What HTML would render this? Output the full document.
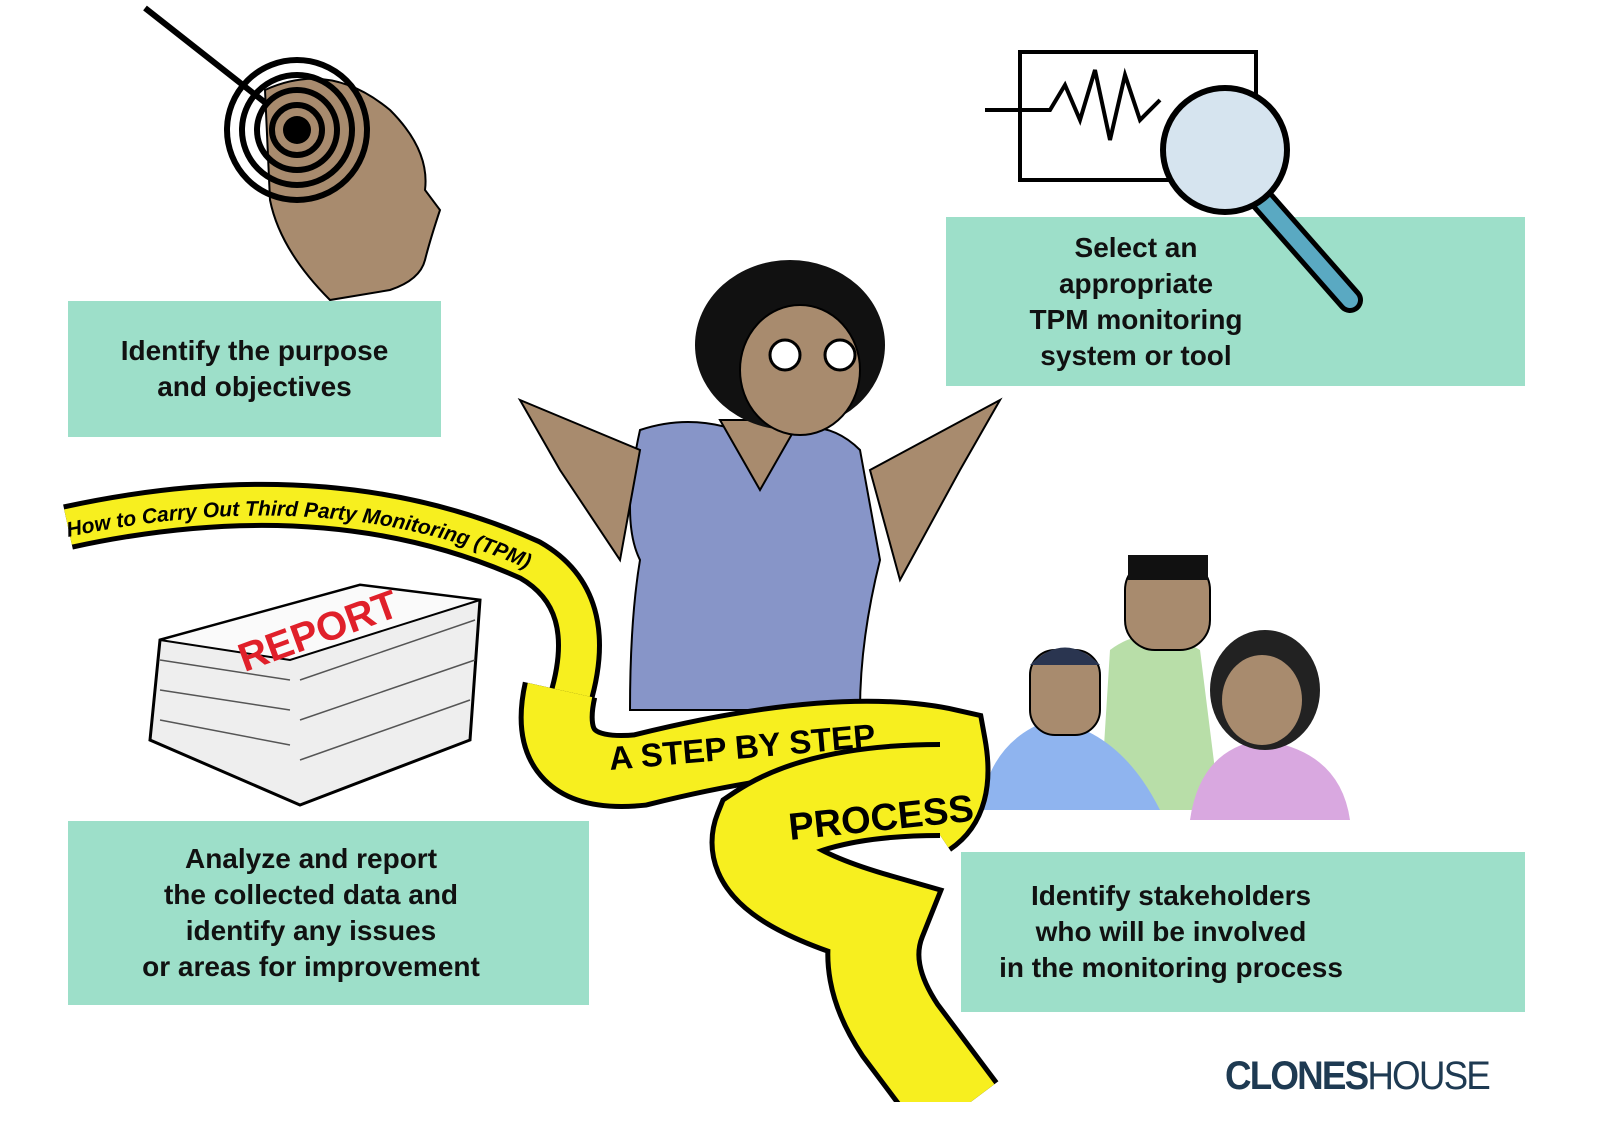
<!DOCTYPE html>
<html><head><meta charset="utf-8"><style>
html,body{margin:0;padding:0;background:#fff}
#c{position:relative;width:1600px;height:1131px;overflow:hidden;background:#fff;font-family:"Liberation Sans",Arial,sans-serif}
.b{position:absolute;background:#9ddfc9;display:flex;align-items:center;justify-content:center;text-align:center;font-weight:bold;font-size:28px;line-height:36px;color:#111}
svg{position:absolute;left:0;top:0}
</style></head><body><div id="c">
<svg width="1600" height="1131" viewBox="0 0 1600 1131">
<line x1="145" y1="8" x2="300" y2="130" stroke="#000" stroke-width="6"/>
<path d="M265 90 Q330 60 390 110 Q430 150 425 190 L440 210 Q430 240 425 260 Q420 280 390 290 L330 300 Q280 250 270 200 Z" fill="#a88b6e" stroke="#000" stroke-width="2"/>
<g fill="none" stroke="#000" stroke-width="6"><circle cx="297" cy="130" r="70"/><circle cx="297" cy="130" r="55"/><circle cx="297" cy="130" r="40"/><circle cx="297" cy="130" r="25"/></g>
<circle cx="297" cy="130" r="14" fill="#000"/>
<rect x="1020" y="52" width="236" height="128" fill="none" stroke="#000" stroke-width="4"/>
<path d="M985 110 L1050 110 L1065 85 L1080 120 L1095 70 L1110 140 L1125 75 L1140 120 L1160 100" fill="none" stroke="#000" stroke-width="4"/>
<polygon points="160,640 360,585 480,600 470,740 300,805 150,740" fill="#eee" stroke="#000" stroke-width="3"/>
<polygon points="160,640 360,585 480,600 290,660" fill="#fafafa" stroke="#000" stroke-width="2"/>
<g stroke="#555" stroke-width="1.5"><line x1="160" y1="660" x2="290" y2="680"/><line x1="160" y1="690" x2="290" y2="710"/><line x1="160" y1="720" x2="290" y2="745"/><line x1="300" y1="680" x2="475" y2="620"/><line x1="300" y1="720" x2="475" y2="660"/><line x1="300" y1="760" x2="470" y2="700"/></g>
<text x="230" y="650" transform="rotate(-20 300 620)" font-family="Liberation Sans" font-weight="bold" font-size="40" fill="#e0202a">REPORT</text>
<path d="M1110 650 Q1150 620 1200 650 L1220 810 L1100 810 Z" fill="#b8dea8"/>
<rect x="1125" y="560" width="85" height="90" rx="30" fill="#a88b6e" stroke="#000" stroke-width="2"/>
<rect x="1128" y="555" width="80" height="25" fill="#111"/>
<path d="M980 810 Q990 740 1050 720 Q1120 730 1160 810 Z" fill="#8fb4ef"/>
<rect x="1030" y="650" width="70" height="85" rx="25" fill="#a88b6e" stroke="#000" stroke-width="2"/>
<path d="M1030 665 Q1065 630 1100 665 Z" fill="#2a3550"/>
<path d="M1190 820 Q1200 750 1260 740 Q1340 750 1350 820 Z" fill="#d9a8e0"/>
<ellipse cx="1265" cy="690" rx="55" ry="60" fill="#222"/>
<ellipse cx="1262" cy="700" rx="40" ry="45" fill="#a88b6e"/>
<path d="M640 430 Q700 410 760 440 Q820 410 860 450 L880 560 Q860 640 860 710 L630 710 Q630 620 640 560 Q620 520 640 430 Z" fill="#8795c8" stroke="#000" stroke-width="2"/>
<path d="M520 400 L560 470 L620 560 L640 450 Z" fill="#a88b6e" stroke="#000" stroke-width="2"/>
<path d="M1000 400 L960 470 L900 580 L870 470 Z" fill="#a88b6e" stroke="#000" stroke-width="2"/>
<path d="M720 420 L760 490 L800 420 Z" fill="#a88b6e" stroke="#000" stroke-width="2"/>
<ellipse cx="790" cy="345" rx="95" ry="85" fill="#111"/>
<ellipse cx="800" cy="370" rx="60" ry="65" fill="#a88b6e" stroke="#000" stroke-width="2"/>
<circle cx="785" cy="355" r="15" fill="#fff" stroke="#000" stroke-width="3"/><circle cx="840" cy="355" r="15" fill="#fff" stroke="#000" stroke-width="3"/>
<g fill="none" stroke-linecap="butt">
<path d="M68 527 Q330 470 530 560 Q600 600 570 700" stroke="#000" stroke-width="46"/>
<path d="M68 527 Q330 470 530 560 Q600 600 570 700" stroke="#f7ef1f" stroke-width="36"/>
<path d="M560 690 Q540 780 640 770 Q840 720 950 745 Q960 800 930 820" stroke="#000" stroke-width="76"/>
<path d="M560 690 Q540 780 640 770 Q840 720 950 745 Q960 800 930 820" stroke="#f7ef1f" stroke-width="66"/>
<path d="M940 790 Q820 790 760 830 Q740 880 880 920 Q860 970 900 1030 L960 1110" stroke="#000" stroke-width="96"/>
<path d="M940 790 Q820 790 760 830 Q740 880 880 920 Q860 970 900 1030 L960 1110" stroke="#f7ef1f" stroke-width="86"/>
</g>
<rect x="0" y="1102" width="1600" height="40" fill="#fff"/>
<path id="tp" d="M68 537 Q330 482 525 568 Q575 595 565 640" fill="none"/>
<text font-family="Liberation Sans" font-style="italic" font-weight="bold" font-size="21" fill="#000"><textPath href="#tp">How to Carry Out Third Party Monitoring (TPM)</textPath></text>
<text x="610" y="770" transform="rotate(-5 610 770)" font-family="Liberation Sans" font-weight="bold" font-size="33" fill="#000">A STEP BY STEP</text>
<text x="790" y="840" transform="rotate(-6 790 840)" font-family="Liberation Sans" font-weight="bold" font-size="38" fill="#000">PROCESS</text>
</svg>
<div class="b" style="left:68px;top:301px;width:373px;height:136px">Identify the purpose<br>and objectives</div>
<div class="b" style="left:946px;top:217px;width:579px;height:169px;justify-content:flex-start"><div style="width:380px">Select an<br>appropriate<br>TPM monitoring<br>system or tool</div></div>
<div class="b" style="left:68px;top:821px;width:521px;height:184px;justify-content:flex-start"><div style="width:486px">Analyze and report<br>the collected data and<br>identify any issues<br>or areas for improvement</div></div>
<div class="b" style="left:961px;top:852px;width:564px;height:160px;justify-content:flex-start"><div style="width:420px">Identify stakeholders<br>who will be involved<br>in the monitoring process</div></div>
<svg width="1600" height="1131" viewBox="0 0 1600 1131">
<line x1="1262" y1="200" x2="1350" y2="300" stroke="#000" stroke-width="26" stroke-linecap="round"/>
<line x1="1262" y1="200" x2="1350" y2="300" stroke="#5aa9c2" stroke-width="16" stroke-linecap="round"/>
<circle cx="1225" cy="150" r="62" fill="#d6e4ef" stroke="#000" stroke-width="6"/>
</svg>
<div style="position:absolute;left:1225px;top:1054px;font-size:40px;color:#1e3a52;letter-spacing:-2px;font-family:'Liberation Sans',sans-serif;transform:scaleX(0.92);transform-origin:left"><b>CLONES</b>HOUSE</div>
</div></body></html>
